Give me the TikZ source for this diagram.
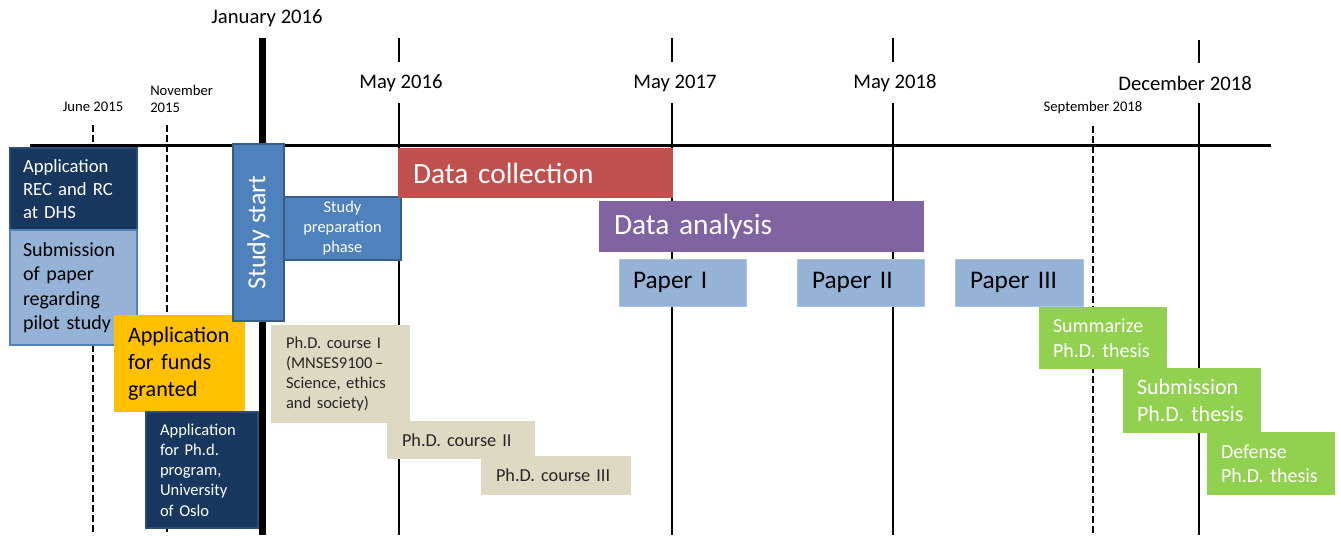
\documentclass[tikz,border=0pt]{standalone}
\usepackage{fontspec}
\setmainfont{Carlito}
\definecolor{navy}{HTML}{17375E}
\definecolor{navyb}{HTML}{2C4D75}
\definecolor{lblue}{HTML}{95B3D7}
\definecolor{lblueb}{HTML}{4F81BD}
\definecolor{mblue}{HTML}{4F81BD}
\definecolor{mblueb}{HTML}{385D8A}
\definecolor{dred}{HTML}{C0504D}
\definecolor{dpurple}{HTML}{8064A2}
\definecolor{lgreen}{HTML}{92D050}
\definecolor{gold}{HTML}{FFC000}
\definecolor{beige}{HTML}{DDD9C3}
\definecolor{dtext}{HTML}{262626}
\newcommand\fsz[1]{\fontsize{#1pt}{\dimexpr#1pt*122/100\relax}\selectfont}
\newcommand\gbox[8]{%
 \pgfmathsetmacro\gbw{(#4-#2)*0.75}%
 \pgfmathsetmacro\gbh{(#5-#3)*0.75}%
 \pgfmathsetmacro\gtw{(#4-#2-2*#7)*0.75}%
 \pgfmathsetmacro\gpd{#7*0.75}%
 \node[#6, anchor=north west, minimum width=\gbw pt, minimum height=\gbh pt, text width=\gtw pt, inner xsep=\gpd pt, inner ysep=0pt, outer sep=0pt] (#1) at (#2,#3) {#8};}
\tikzset{
 axisline/.style={line width=2.25pt},
 vline/.style={line width=1.6pt},
 dline/.style={line width=1.6pt, dash pattern=on 5pt off 2.5pt},
 jline/.style={line width=5.25pt},
 lbl/.style={inner sep=0pt, font=\fsz{15.5}},
 slbl/.style={inner sep=0pt, font=\fsz{11}},
 navybox/.style={fill=navy, draw=navyb, line width=1pt, text=white, align=left},
 lbluebox/.style={fill=lblue, draw=lblueb, line width=1pt, text=black, align=left},
 paperbox/.style={fill=lblue, draw=lblue!80!white, line width=0.6pt, text=black, align=left, font=\fsz{19}},
 mbluebox/.style={fill=mblue, draw=mblueb, line width=1.2pt, text=white, align=center},
 redbox/.style={fill=dred, text=white, align=left, font=\fsz{22}},
 purplebox/.style={fill=dpurple, text=white, align=left, font=\fsz{22}},
 greenbox/.style={fill=lgreen, text=white, align=left},
 goldbox/.style={fill=gold, text=black, align=left, font=\fsz{16.6}},
 beigebox/.style={fill=beige, text=dtext, align=left},
}
\begin{document}
\begin{tikzpicture}[x=0.75pt,y=-0.75pt]
\useasboundingbox (0,0) rectangle (1341,535);
% coordinates
\coordinate (axL) at (30,145); \coordinate (axR) at (1271,145);
\coordinate (jT) at (262,38); \coordinate (jB) at (262,535);
\coordinate (m16a) at (399,38); \coordinate (m16b) at (399,62);
\coordinate (m16c) at (399,103); \coordinate (m16d) at (399,535);
\coordinate (m17a) at (672,38); \coordinate (m17b) at (672,62);
\coordinate (m17c) at (672,103); \coordinate (m17d) at (672,535);
\coordinate (m18a) at (893,38); \coordinate (m18b) at (893,62);
\coordinate (m18c) at (893,103); \coordinate (m18d) at (893,535);
\coordinate (d18a) at (1199,40); \coordinate (d18b) at (1199,63);
\coordinate (d18c) at (1199,103); \coordinate (d18d) at (1199,535);
\coordinate (junT) at (93,125); \coordinate (junB) at (93,535);
\coordinate (novT) at (167,125); \coordinate (novB) at (167,535);
\coordinate (sepT) at (1093,126); \coordinate (sepB) at (1093,535);
% lines
\draw[dline] (junT) -- (junB);
\draw[dline] (novT) -- (novB);
\draw[dline] (sepT) -- (sepB);
\draw[vline] (m16a) -- (m16b); \draw[vline] (m16c) -- (m16d);
\draw[vline] (m17a) -- (m17b); \draw[vline] (m17c) -- (m17d);
\draw[vline] (m18a) -- (m18b); \draw[vline] (m18c) -- (m18d);
\draw[vline] (d18a) -- (d18b); \draw[vline] (d18c) -- (d18d);
\draw[axisline] (axL) -- (axR);
\draw[jline] (jT) -- (jB);
% labels
\node[lbl] (ljan) at (267,18) {January 2016};
\node[lbl] (lm16) at (401,83) {May 2016};
\node[lbl] (lm17) at (675,83) {May 2017};
\node[lbl] (lm18) at (895,83) {May 2018};
\node[lbl] (ld18) at (1185,83) {December 2018};
\node[slbl] (ljun) at (93,107) {June 2015};
\node[slbl, anchor=west, align=left] (lnov) at (150,99) {November\\2015};
\node[slbl] (lsep) at (1093,108) {September 2018};
% boxes
\gbox{rec}{10}{148}{137}{230}{navybox, font=\fsz{14}}{13}{Application\\REC and RC\\at DHS}
\gbox{sub}{10}{230}{137}{345}{lbluebox, font=\fsz{15}}{13}{Submission\\of paper\\regarding\\pilot study}
\gbox{funds}{114}{315}{245}{412}{goldbox}{14}{Application\\for funds\\granted}
\gbox{phdapp}{146}{412}{258}{528}{navybox, font=\fsz{12.4}}{14}{Application\\for Ph.d.\\program,\\University\\of Oslo}
\gbox{start}{233}{144}{284}{321}{mbluebox}{2}{}
\node[rotate=90, text=white, font=\fsz{19.5}, inner sep=0pt] (startt) at (start.center) {Study start};
\gbox{prep}{284}{197}{401}{260}{mbluebox, font=\fsz{12.3}}{4}{Study\\preparation\\phase}
\gbox{dc}{398}{148}{673}{198}{redbox}{15}{Data collection}
\gbox{da}{599}{201}{924}{252}{purplebox}{15}{Data analysis}
\gbox{p1}{619}{259}{746}{306}{paperbox}{14}{Paper I}
\gbox{p2}{797}{259}{924}{306}{paperbox}{15}{Paper II}
\gbox{p3}{955}{259}{1083}{306}{paperbox}{15}{Paper III}
\gbox{c1}{271}{325}{410}{423}{beigebox, font=\fsz{12.4}}{15}{Ph.D. course I\\(MNSES9100\,--\\Science, ethics\\and society)}
\gbox{c2}{387}{421}{535}{459}{beigebox, font=\fsz{13.7}}{15}{Ph.D. course II}
\gbox{c3}{481}{456}{631}{495}{beigebox, font=\fsz{13.7}}{15}{Ph.D. course III}
\gbox{sum}{1039}{307}{1167}{369}{greenbox, font=\fsz{15}}{14}{Summarize\\Ph.D. thesis}
\gbox{subm}{1123}{368}{1261}{433}{greenbox, font=\fsz{16.5}}{14}{Submission\\Ph.D. thesis}
\gbox{def}{1207}{432}{1335}{495}{greenbox, font=\fsz{15}}{14}{Defense\\Ph.D. thesis}
\end{tikzpicture}
\end{document}
